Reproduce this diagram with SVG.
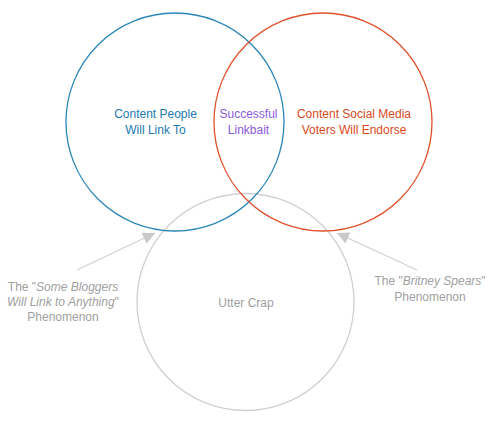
<svg xmlns="http://www.w3.org/2000/svg" width="490" height="425" viewBox="0 0 490 425">
<defs>
<style>
text{font-family:"Liberation Sans",Arial,sans-serif;font-size:12px;text-anchor:middle}
.c{fill:none;stroke-width:1.3}
.g{fill:#a0a0a0}
</style>
<marker id="ah" viewBox="0 0 10 10" refX="10" refY="5" markerWidth="14" markerHeight="12" markerUnits="userSpaceOnUse" orient="auto">
<path d="M0,0 L10,5 L0,10 z" fill="#c8c8c8"/>
</marker>
</defs>
<rect width="490" height="425" fill="#fff"/>
<g id="gray-circle"><circle class="c" cx="245.5" cy="302" r="108.5" stroke="#d0d0d0"/><text class="g" x="246" y="307">Utter Crap</text></g>
<g id="blue-circle"><circle class="c" cx="175" cy="122" r="109" stroke="#2a86b8"/><text x="155.5" y="118" fill="#2279ad">Content People</text><text x="155.5" y="134" fill="#2279ad">Will Link To</text></g>
<g id="red-circle"><circle class="c" cx="323" cy="122" r="109" stroke="#e0502a"/><text x="354" y="118" fill="#d84a1c">Content Social Media</text><text x="354" y="134" fill="#d84a1c">Voters Will Endorse</text></g>
<g id="overlap"><text x="248.5" y="118" fill="#8a5ad8">Successful</text><text x="248.5" y="134" fill="#8a5ad8">Linkbait</text></g>
<g id="connectors" stroke="#d0d0d0" stroke-width="1.2">
<line x1="77" y1="270" x2="155" y2="233" marker-end="url(#ah)"/>
<line x1="417" y1="270" x2="337" y2="233" marker-end="url(#ah)"/>
</g>
<g id="left-label" class="g"><text x="63" y="291">The "<tspan font-style="italic">Some Bloggers</tspan></text><text x="63" y="306"><tspan font-style="italic">Will Link to Anything</tspan>"</text><text x="63" y="321">Phenomenon</text></g>
<g id="right-label" class="g"><text x="430" y="285">The "<tspan font-style="italic">Britney Spears</tspan>"</text><text x="430" y="301">Phenomenon</text></g>
</svg>
